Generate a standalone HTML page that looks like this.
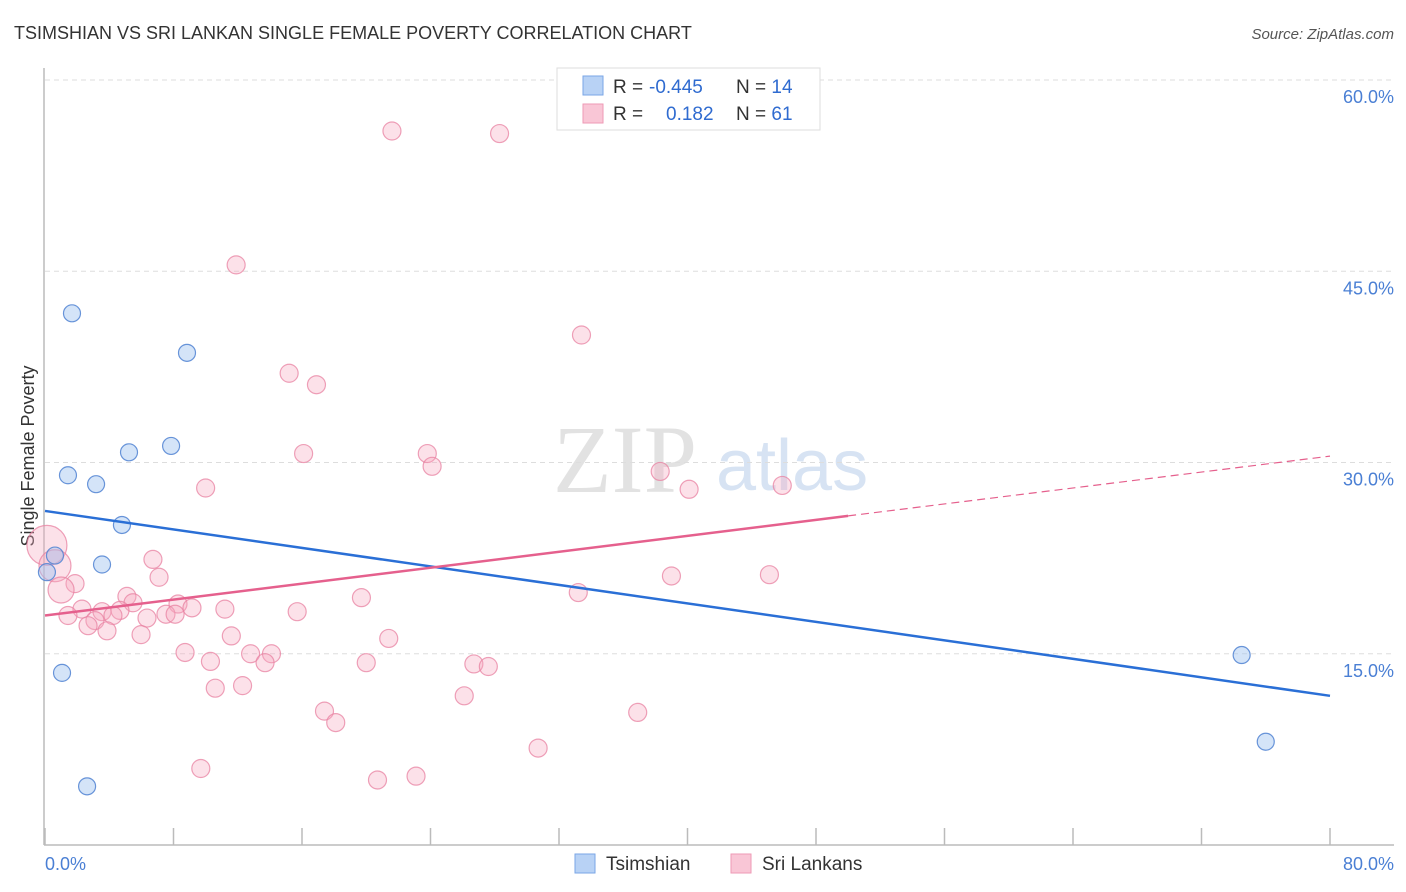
<!DOCTYPE html>
<html><head><meta charset="utf-8"><style>
body{margin:0;background:#fff;font-family:"Liberation Sans",sans-serif}
svg{display:block}
</style></head><body>
<svg id="c" width="1406" height="892" viewBox="0 0 1406 892">
<text x="14" y="39" font-size="18" fill="#333">TSIMSHIAN VS SRI LANKAN SINGLE FEMALE POVERTY CORRELATION CHART</text>
<text x="1394" y="39" font-size="15" fill="#555" font-style="italic" text-anchor="end">Source: ZipAtlas.com</text>
<g>
<text x="553" y="492" font-size="96" font-family="Liberation Serif,serif" fill="#e2e2e2">ZIP</text>
<text x="716" y="490" font-size="72" fill="#d7e3f3">atlas</text>
</g>
<g id="grid"></g>
<line x1="44" y1="68" x2="44" y2="845" stroke="#bbb" stroke-width="1.5"/>
<line x1="44" y1="845" x2="1394" y2="845" stroke="#bbb" stroke-width="1.5"/>
<g id="ticks"></g>
<text x="45" y="870" font-size="18" fill="#4a7fd4">0.0%</text>
<text x="1394" y="870" font-size="18" fill="#4a7fd4" text-anchor="end">80.0%</text>
<text transform="translate(34,456) rotate(-90)" font-size="18" fill="#333" text-anchor="middle">Single Female Poverty</text>
<g id="pts"></g>
<g id="lines"></g>
<g>
<rect x="557" y="68" width="263" height="62" fill="#fff" stroke="#ddd"/>
<rect x="583" y="76" width="20" height="19" fill="#b8d2f5" stroke="#7aa6e6"/>
<rect x="583" y="104" width="20" height="19" fill="#f9c6d6" stroke="#ee9ab5"/>
<text x="613" y="93" font-size="19" fill="#333">R = <tspan fill="#2f6bd0" x="649">-0.445</tspan><tspan x="736">N = </tspan><tspan fill="#2f6bd0">14</tspan></text>
<text x="613" y="120" font-size="19" fill="#333">R = <tspan fill="#2f6bd0" x="666">0.182</tspan><tspan x="736">N = </tspan><tspan fill="#2f6bd0">61</tspan></text>
</g>
<g>
<rect x="575" y="854" width="20" height="19" fill="#b8d2f5" stroke="#7aa6e6"/>
<text x="606" y="870" font-size="19" fill="#333">Tsimshian</text>
<rect x="731" y="854" width="20" height="19" fill="#f9c6d6" stroke="#ee9ab5"/>
<text x="762" y="870" font-size="19" fill="#333">Sri Lankans</text>
</g>
</svg>
<script>
const yTicks=[15,30,45,60];
const yTickLabels=["15.0%","30.0%","45.0%","60.0%"];
const xTicks=[0,8,16,24,32,40,48,56,64,72,80];
const blueX=[1.68,8.84,5.23,7.85,1.43,3.18,4.79,0.62,3.55,0.12,1.06,2.62,74.5,76.0];
const blueY=[41.7,38.6,30.8,31.3,29.0,28.3,25.1,22.7,22.0,21.4,13.5,4.6,14.9,8.1];
const pinkX=[21.6,28.3,11.9,33.4,15.2,16.9,16.1,23.8,24.1,38.3,10.0,40.1,45.9,0.12,0.62,6.72,7.10,39.0,45.1,1.87,1.0,33.2,19.7,5.1,5.48,8.28,9.15,2.3,11.2,15.7,4.67,3.55,1.43,4.23,6.35,7.53,8.1,3.11,2.68,3.86,5.98,11.6,21.4,8.72,12.8,14.1,10.3,13.7,20.0,26.7,27.6,10.6,12.3,26.1,17.4,18.1,36.9,30.7,9.7,20.7,23.1];
const pinkY=[56.0,55.8,45.5,40.0,37.0,36.1,30.7,30.7,29.7,29.3,28.0,27.9,28.2,23.5,21.9,22.4,21.0,21.1,21.2,20.5,20.0,19.8,19.4,19.5,19.0,18.9,18.6,18.5,18.5,18.3,18.4,18.3,18.0,18.0,17.8,18.1,18.1,17.6,17.2,16.8,16.5,16.4,16.2,15.1,15.0,15.0,14.4,14.3,14.3,14.2,14.0,12.3,12.5,11.7,10.5,9.6,10.4,7.6,6.0,5.1,5.4];
const pinkR=[9,9,9,9,9,9,9,9,9,9,9,9,9,20,16,9,9,9,9,9,13,9,9,9,9,9,9,9,9,9,9,9,9,9,9,9,9,9,9,9,9,9,9,9,9,9,9,9,9,9,9,9,9,9,9,9,9,9,9,9,9];
const blueTrend=[26.2,11.7];
const pinkTrend=[18.0,30.5];
const pinkSolidEnd=50;
const X=v=>45+v*(1285/80), Y=v=>845-v*12.75;
const NS="http://www.w3.org/2000/svg";
function mk(t,a,p){const e=document.createElementNS(NS,t);for(const k in a)e.setAttribute(k,a[k]);p.appendChild(e);return e;}
const grid=document.getElementById('grid');
yTicks.forEach((t,i)=>{
 const l=mk('line',{x1:45,x2:1394,y1:Y(t),y2:Y(t),stroke:'#ddd','stroke-dasharray':'5,4'},grid);
 
 
 const tx=mk('text',{x:1394,y:Y(t)+23,'font-size':18,fill:'#4a7fd4','text-anchor':'end'},grid);
 tx.textContent=yTickLabels[i];
 
 
});
const gl=mk('line',{x1:45,x2:1394,y1:80,y2:80,stroke:'#ddd','stroke-dasharray':'5,4'},grid);


const tk=document.getElementById('ticks');
xTicks.forEach(t=>{
 const l=mk('line',{x1:X(t),x2:X(t),y1:828,y2:845,stroke:'#bbb','stroke-width':1.5},tk);
 
 
});
const pts=document.getElementById('pts');
pinkX.forEach((x,i)=>{
 const c=mk('circle',{cx:X(x),cy:Y(pinkY[i]),r:pinkR[i],fill:'rgba(246,168,192,0.35)',stroke:'rgba(232,130,162,0.75)','stroke-width':1.2},pts);
 
 
});
blueX.forEach((x,i)=>{
 const c=mk('circle',{cx:X(x),cy:Y(blueY[i]),r:8.5,fill:'rgba(160,195,240,0.45)',stroke:'rgba(80,130,210,0.85)','stroke-width':1.2},pts);
 
 
});
const ln=document.getElementById('lines');
const b=mk('line',{x1:X(0),y1:Y(blueTrend[0]),x2:X(80),y2:Y(blueTrend[1]),stroke:'#2a6fd6','stroke-width':2.5},ln);


const pm=pinkTrend[0]+(pinkTrend[1]-pinkTrend[0])*pinkSolidEnd/80;
const p1=mk('line',{x1:X(0),y1:Y(pinkTrend[0]),x2:X(pinkSolidEnd),y2:Y(pm),stroke:'#e5608d','stroke-width':2.5},ln);


const p2=mk('line',{x1:X(pinkSolidEnd),y1:Y(pm),x2:X(80),y2:Y(pinkTrend[1]),stroke:'#e5608d','stroke-width':1.2,'stroke-dasharray':'8,5'},ln);


</script>
</body></html>
